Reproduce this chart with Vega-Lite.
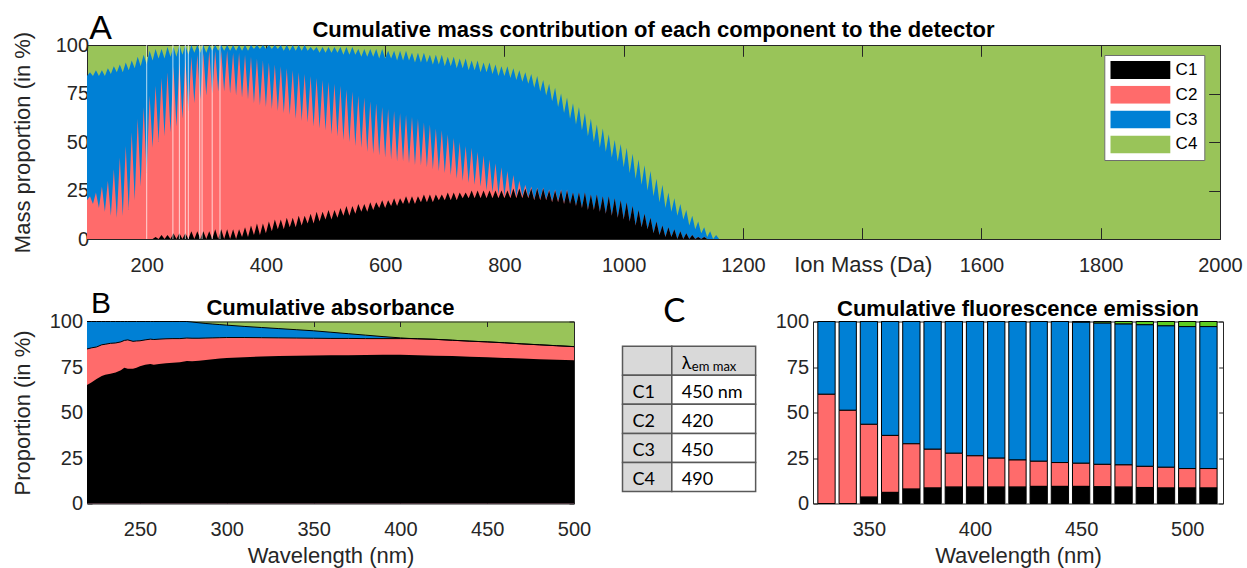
{
"$schema": "https://vega.github.io/schema/vega-lite/v6.json",
"background": "white",
"padding": {"left": 11, "top": 12, "right": 3, "bottom": 1},
"autosize": {"type": "pad"},
"bounds": "flush",
"spacing": 82.5,
"config": {
  "font": "Liberation Sans",
  "view": {"stroke": null},
  "axis": {"zindex": 1, "grid": false, "domainColor": "#262626", "domainWidth": 1, "tickColor": "#262626", "tickWidth": 1, "labelColor": "#262626", "labelFont": "Liberation Sans", "labelFontSize": 20, "titleColor": "#262626", "titleFont": "Liberation Sans", "titleFontSize": 22, "titleFontWeight": "normal", "labelFlush": false, "labelOverlap": false}
},
"datasets": {
  "mass": [
    {"m":100,"c1":0,"c2":20,"c3":84},{"m":105,"c1":0,"c2":22,"c3":86},{"m":110,"c1":0,"c2":18,"c3":84},{"m":115,"c1":0,"c2":24,"c3":87},
    {"m":120,"c1":0,"c2":16,"c3":84},{"m":125,"c1":0,"c2":27,"c3":87},{"m":130,"c1":0,"c2":14,"c3":84},{"m":135,"c1":0,"c2":30,"c3":88},
    {"m":140,"c1":0,"c2":12,"c3":85},{"m":145,"c1":0,"c2":36,"c3":89},{"m":150,"c1":0,"c2":11,"c3":86},{"m":155,"c1":0,"c2":42,"c3":90},
    {"m":160,"c1":0,"c2":12,"c3":86},{"m":165,"c1":0,"c2":48,"c3":91},{"m":170,"c1":0,"c2":15,"c3":87},{"m":175,"c1":0,"c2":55,"c3":92},
    {"m":180,"c1":0,"c2":20,"c3":88},{"m":185,"c1":0,"c2":62,"c3":94},{"m":190,"c1":0,"c2":27,"c3":89},{"m":195,"c1":0,"c2":68,"c3":95},
    {"m":200,"c1":0,"c2":34,"c3":90},{"m":205,"c1":0,"c2":74,"c3":97},{"m":210,"c1":0,"c2":47,"c3":92},{"m":215,"c1":1,"c2":79,"c3":98},
    {"m":220,"c1":0,"c2":50,"c3":93},{"m":225,"c1":2,"c2":83,"c3":98},{"m":230,"c1":0,"c2":53,"c3":93},{"m":235,"c1":2,"c2":86,"c3":99},
    {"m":240,"c1":0,"c2":55,"c3":94},{"m":245,"c1":3,"c2":89,"c3":99},{"m":250,"c1":0,"c2":58,"c3":94},{"m":255,"c1":3,"c2":91,"c3":100},
    {"m":260,"c1":0,"c2":62,"c3":95},{"m":265,"c1":3,"c2":93,"c3":100},{"m":270,"c1":0,"c2":66,"c3":95},{"m":275,"c1":4,"c2":94,"c3":100},
    {"m":280,"c1":0,"c2":70,"c3":96},{"m":285,"c1":4,"c2":95,"c3":100},{"m":290,"c1":0,"c2":72,"c3":96},{"m":295,"c1":4,"c2":96,"c3":100},
    {"m":300,"c1":0,"c2":74,"c3":96},{"m":305,"c1":4,"c2":97,"c3":100},{"m":310,"c1":0,"c2":75,"c3":97},{"m":315,"c1":5,"c2":97,"c3":100},
    {"m":320,"c1":0,"c2":76,"c3":97},{"m":325,"c1":5,"c2":97,"c3":100},{"m":330,"c1":0,"c2":76,"c3":97},{"m":335,"c1":5,"c2":97,"c3":100},
    {"m":340,"c1":0,"c2":75,"c3":97},{"m":345,"c1":5,"c2":96,"c3":100},{"m":350,"c1":0,"c2":74,"c3":97},{"m":355,"c1":5,"c2":96,"c3":100},
    {"m":360,"c1":1,"c2":73,"c3":97},{"m":365,"c1":6,"c2":95,"c3":100},{"m":370,"c1":1,"c2":72,"c3":97},{"m":375,"c1":7,"c2":94,"c3":100},
    {"m":380,"c1":2,"c2":70,"c3":98},{"m":385,"c1":8,"c2":93,"c3":100},{"m":390,"c1":2,"c2":69,"c3":98},{"m":395,"c1":8,"c2":92,"c3":100},
    {"m":400,"c1":3,"c2":68,"c3":98},{"m":405,"c1":9,"c2":91,"c3":100},{"m":410,"c1":4,"c2":67,"c3":98},{"m":415,"c1":10,"c2":90,"c3":100},
    {"m":420,"c1":5,"c2":66,"c3":98},{"m":425,"c1":10,"c2":89,"c3":100},{"m":430,"c1":5,"c2":65,"c3":97},{"m":435,"c1":11,"c2":88,"c3":100},
    {"m":440,"c1":6,"c2":64,"c3":97},{"m":445,"c1":11,"c2":87,"c3":100},{"m":450,"c1":6,"c2":62,"c3":97},{"m":455,"c1":12,"c2":86,"c3":100},
    {"m":460,"c1":7,"c2":61,"c3":97},{"m":465,"c1":12,"c2":85,"c3":100},{"m":470,"c1":8,"c2":60,"c3":97},{"m":475,"c1":13,"c2":84,"c3":99},
    {"m":480,"c1":8,"c2":58,"c3":97},{"m":485,"c1":14,"c2":83,"c3":99},{"m":490,"c1":9,"c2":57,"c3":96},{"m":495,"c1":14,"c2":82,"c3":99},
    {"m":500,"c1":10,"c2":56,"c3":96},{"m":505,"c1":15,"c2":81,"c3":99},{"m":510,"c1":10,"c2":54,"c3":96},{"m":515,"c1":15,"c2":80,"c3":99},
    {"m":520,"c1":11,"c2":53,"c3":96},{"m":525,"c1":16,"c2":79,"c3":99},{"m":530,"c1":12,"c2":51,"c3":95},{"m":535,"c1":17,"c2":77,"c3":99},
    {"m":540,"c1":12,"c2":50,"c3":95},{"m":545,"c1":17,"c2":76,"c3":99},{"m":550,"c1":13,"c2":48,"c3":95},{"m":555,"c1":18,"c2":74,"c3":98},
    {"m":560,"c1":14,"c2":47,"c3":94},{"m":565,"c1":18,"c2":73,"c3":98},{"m":570,"c1":14,"c2":45,"c3":94},{"m":575,"c1":19,"c2":71,"c3":98},
    {"m":580,"c1":15,"c2":44,"c3":94},{"m":585,"c1":19,"c2":70,"c3":98},{"m":590,"c1":16,"c2":43,"c3":93},{"m":595,"c1":20,"c2":68,"c3":98},
    {"m":600,"c1":16,"c2":42,"c3":93},{"m":605,"c1":20,"c2":67,"c3":97},{"m":610,"c1":17,"c2":41,"c3":93},{"m":615,"c1":21,"c2":66,"c3":97},
    {"m":620,"c1":17,"c2":40,"c3":92},{"m":625,"c1":21,"c2":65,"c3":97},{"m":630,"c1":18,"c2":40,"c3":92},{"m":635,"c1":22,"c2":64,"c3":97},
    {"m":640,"c1":18,"c2":39,"c3":92},{"m":645,"c1":22,"c2":63,"c3":96},{"m":650,"c1":18,"c2":38,"c3":91},{"m":655,"c1":22,"c2":62,"c3":96},
    {"m":660,"c1":19,"c2":38,"c3":91},{"m":665,"c1":23,"c2":60,"c3":96},{"m":670,"c1":19,"c2":37,"c3":91},{"m":675,"c1":23,"c2":59,"c3":95},
    {"m":680,"c1":19,"c2":36,"c3":90},{"m":685,"c1":23,"c2":57,"c3":95},{"m":690,"c1":20,"c2":35,"c3":90},{"m":695,"c1":23,"c2":56,"c3":95},
    {"m":700,"c1":20,"c2":34,"c3":89},{"m":705,"c1":24,"c2":54,"c3":94},{"m":710,"c1":20,"c2":33,"c3":89},{"m":715,"c1":24,"c2":52,"c3":94},
    {"m":720,"c1":20,"c2":31,"c3":88},{"m":725,"c1":24,"c2":50,"c3":93},{"m":730,"c1":21,"c2":30,"c3":88},{"m":735,"c1":24,"c2":48,"c3":93},
    {"m":740,"c1":21,"c2":29,"c3":87},{"m":745,"c1":25,"c2":47,"c3":92},{"m":750,"c1":21,"c2":28,"c3":87},{"m":755,"c1":25,"c2":45,"c3":92},
    {"m":760,"c1":21,"c2":27,"c3":86},{"m":765,"c1":25,"c2":43,"c3":91},{"m":770,"c1":21,"c2":25,"c3":86},{"m":775,"c1":25,"c2":41,"c3":91},
    {"m":780,"c1":21,"c2":24,"c3":85},{"m":785,"c1":25,"c2":39,"c3":90},{"m":790,"c1":21,"c2":23,"c3":84},{"m":795,"c1":25,"c2":37,"c3":89},
    {"m":800,"c1":21,"c2":22,"c3":84},{"m":805,"c1":25,"c2":35,"c3":89},{"m":810,"c1":21,"c2":22,"c3":83},{"m":815,"c1":26,"c2":33,"c3":88},
    {"m":820,"c1":21,"c2":22,"c3":82},{"m":825,"c1":26,"c2":30,"c3":87},{"m":830,"c1":21,"c2":22,"c3":81},{"m":835,"c1":26,"c2":28,"c3":86},
    {"m":840,"c1":21,"c2":21.5,"c3":80},{"m":845,"c1":26,"c2":27,"c3":85},{"m":850,"c1":20,"c2":20.5,"c3":78},{"m":855,"c1":26,"c2":26.5,"c3":84},
    {"m":860,"c1":20,"c2":20.5,"c3":76},{"m":865,"c1":26,"c2":26.5,"c3":82},{"m":870,"c1":20,"c2":20.5,"c3":74},{"m":875,"c1":25,"c2":25.5,"c3":80},
    {"m":880,"c1":19,"c2":19.5,"c3":71},{"m":885,"c1":25,"c2":25.5,"c3":78},{"m":890,"c1":19,"c2":19.5,"c3":68},{"m":895,"c1":25,"c2":25.5,"c3":75},
    {"m":900,"c1":18,"c2":18.5,"c3":65},{"m":905,"c1":25,"c2":25.5,"c3":73},{"m":910,"c1":18,"c2":18,"c3":62},{"m":915,"c1":24,"c2":24,"c3":70},
    {"m":920,"c1":17,"c2":17,"c3":59},{"m":925,"c1":24,"c2":24,"c3":68},{"m":930,"c1":16,"c2":16,"c3":56},{"m":935,"c1":24,"c2":24,"c3":65},
    {"m":940,"c1":15,"c2":15,"c3":53},{"m":945,"c1":23,"c2":23,"c3":62},{"m":950,"c1":15,"c2":15,"c3":50},{"m":955,"c1":23,"c2":23,"c3":59},
    {"m":960,"c1":14,"c2":14,"c3":47},{"m":965,"c1":22,"c2":22,"c3":57},{"m":970,"c1":13,"c2":13,"c3":45},{"m":975,"c1":22,"c2":22,"c3":54},
    {"m":980,"c1":12,"c2":12,"c3":42},{"m":985,"c1":21,"c2":21,"c3":51},{"m":990,"c1":11,"c2":11,"c3":40},{"m":995,"c1":20,"c2":20,"c3":49},
    {"m":1000,"c1":10,"c2":10,"c3":37},{"m":1005,"c1":19,"c2":19,"c3":47},{"m":1010,"c1":9,"c2":9,"c3":34},{"m":1015,"c1":17,"c2":17,"c3":44},
    {"m":1020,"c1":7,"c2":7,"c3":31},{"m":1025,"c1":15,"c2":15,"c3":41},{"m":1030,"c1":6,"c2":6,"c3":28},{"m":1035,"c1":13,"c2":13,"c3":38},
    {"m":1040,"c1":5,"c2":5,"c3":25},{"m":1045,"c1":11,"c2":11,"c3":35},{"m":1050,"c1":3,"c2":3,"c3":22},{"m":1055,"c1":9,"c2":9,"c3":31},
    {"m":1060,"c1":2,"c2":2,"c3":19},{"m":1065,"c1":7,"c2":7,"c3":28},{"m":1070,"c1":1,"c2":1,"c3":16},{"m":1075,"c1":6,"c2":6,"c3":24},
    {"m":1080,"c1":1,"c2":1,"c3":14},{"m":1085,"c1":5,"c2":5,"c3":21},{"m":1090,"c1":0,"c2":0,"c3":12},{"m":1095,"c1":4,"c2":4,"c3":18},
    {"m":1100,"c1":0,"c2":0,"c3":10},{"m":1105,"c1":3,"c2":3,"c3":15},{"m":1110,"c1":0,"c2":0,"c3":7},{"m":1115,"c1":2,"c2":2,"c3":12},
    {"m":1120,"c1":0,"c2":0,"c3":5},{"m":1125,"c1":1,"c2":1,"c3":9},{"m":1130,"c1":0,"c2":0,"c3":3},{"m":1135,"c1":1,"c2":1,"c3":6},
    {"m":1140,"c1":0,"c2":0,"c3":1},{"m":1145,"c1":0,"c2":0,"c3":4},{"m":1150,"c1":0,"c2":0,"c3":0},{"m":1155,"c1":0,"c2":0,"c3":2},
    {"m":1160,"c1":0,"c2":0,"c3":0},{"m":2000,"c1":0,"c2":0,"c3":0}
  ],
  "gaps": [{"g":200},{"g":244},{"g":255},{"g":265},{"g":270},{"g":289},{"g":293},{"g":310},{"g":323}],
  "abs": [
    {"w":219.5,"c1":65.1,"c2":84.9,"c3":100},{"w":222,"c1":66.5,"c2":85.5,"c3":100},{"w":225,"c1":68.4,"c2":86.0,"c3":100},
    {"w":228,"c1":70.0,"c2":87.2,"c3":100},{"w":230,"c1":70.8,"c2":87.5,"c3":100},{"w":233,"c1":71.3,"c2":88.0,"c3":100},
    {"w":236,"c1":72.0,"c2":88.2,"c3":100},{"w":239,"c1":73.2,"c2":88.8,"c3":100},{"w":241,"c1":74.6,"c2":89.6,"c3":100},
    {"w":243,"c1":74.0,"c2":89.9,"c3":100},{"w":246,"c1":74.0,"c2":89.1,"c3":100},{"w":248,"c1":74.6,"c2":89.3,"c3":100},
    {"w":250,"c1":75.4,"c2":89.4,"c3":100},{"w":253,"c1":76.3,"c2":89.9,"c3":100},{"w":256,"c1":76.6,"c2":90.3,"c3":100},
    {"w":258,"c1":76.2,"c2":90.1,"c3":100},{"w":261,"c1":76.6,"c2":90.3,"c3":100},{"w":265,"c1":77.0,"c2":90.5,"c3":100},
    {"w":269,"c1":77.3,"c2":90.6,"c3":100},{"w":273,"c1":77.6,"c2":90.6,"c3":100},{"w":277,"c1":78.3,"c2":90.9,"c3":100},
    {"w":280,"c1":78.1,"c2":90.8,"c3":99.7},{"w":284,"c1":78.4,"c2":90.8,"c3":99.3},{"w":288,"c1":78.9,"c2":90.9,"c3":98.9},
    {"w":292,"c1":79.3,"c2":91.0,"c3":98.6},{"w":296,"c1":79.7,"c2":91.1,"c3":98.3},{"w":300,"c1":80.0,"c2":91.2,"c3":98.0},
    {"w":310,"c1":80.4,"c2":91.2,"c3":97.3},{"w":320,"c1":80.8,"c2":91.1,"c3":96.7},{"w":330,"c1":81.0,"c2":91.0,"c3":96.1},
    {"w":340,"c1":81.2,"c2":90.9,"c3":95.5},{"w":350,"c1":81.3,"c2":90.8,"c3":94.9},{"w":360,"c1":81.4,"c2":90.7,"c3":94.1},
    {"w":370,"c1":81.5,"c2":90.7,"c3":93.3},{"w":380,"c1":81.6,"c2":90.6,"c3":92.5},{"w":390,"c1":81.7,"c2":90.6,"c3":91.7},
    {"w":400,"c1":81.7,"c2":90.6,"c3":91.0},{"w":405,"c1":81.6,"c2":90.6,"c3":90.7},{"w":410,"c1":81.5,"c2":90.5,"c3":90.5},
    {"w":420,"c1":81.2,"c2":90.2,"c3":90.2},{"w":430,"c1":81.0,"c2":89.7,"c3":89.7},{"w":440,"c1":80.7,"c2":89.2,"c3":89.2},
    {"w":450,"c1":80.4,"c2":88.8,"c3":88.8},{"w":460,"c1":80.0,"c2":88.3,"c3":88.3},{"w":470,"c1":79.7,"c2":87.7,"c3":87.7},
    {"w":480,"c1":79.3,"c2":87.2,"c3":87.2},{"w":490,"c1":79.0,"c2":86.7,"c3":86.7},{"w":500,"c1":78.7,"c2":86.2,"c3":86.2}
  ],
  "fluo": [
    {"w":330,"c1":0,"c2":60.0,"c3":100},{"w":340,"c1":0,"c2":51.2,"c3":100},{"w":350,"c1":3.5,"c2":43.5,"c3":100},
    {"w":360,"c1":6.1,"c2":37.4,"c3":100},{"w":370,"c1":7.9,"c2":32.8,"c3":100},{"w":380,"c1":8.5,"c2":29.8,"c3":100},
    {"w":390,"c1":9.0,"c2":27.6,"c3":100},{"w":400,"c1":9.0,"c2":26.2,"c3":100},{"w":410,"c1":9.0,"c2":24.9,"c3":100},
    {"w":420,"c1":9.0,"c2":23.9,"c3":100},{"w":430,"c1":9.4,"c2":23.2,"c3":100},{"w":440,"c1":9.4,"c2":22.5,"c3":100},
    {"w":450,"c1":9.4,"c2":22.1,"c3":99.6},{"w":460,"c1":9.2,"c2":21.5,"c3":99.1},{"w":470,"c1":9.0,"c2":21.2,"c3":98.6},
    {"w":480,"c1":8.8,"c2":20.4,"c3":98.2},{"w":490,"c1":8.5,"c2":19.9,"c3":97.6},{"w":500,"c1":8.5,"c2":19.2,"c3":97.2},
    {"w":510,"c1":8.5,"c2":19.2,"c3":97.2}
  ],
  "tbl": [
    {"r0":0,"r1":1,"k0":0,"k1":1,"head":true,"t":""},
    {"r0":0,"r1":1,"k0":1,"k1":2.7,"head":true,"t":"λ","sub":"em max"},
    {"r0":1,"r1":2,"k0":0,"k1":1,"head":true,"t":"C1"},
    {"r0":1,"r1":2,"k0":1,"k1":2.7,"head":false,"t":"450 nm"},
    {"r0":2,"r1":3,"k0":0,"k1":1,"head":true,"t":"C2"},
    {"r0":2,"r1":3,"k0":1,"k1":2.7,"head":false,"t":"420"},
    {"r0":3,"r1":4,"k0":0,"k1":1,"head":true,"t":"C3"},
    {"r0":3,"r1":4,"k0":1,"k1":2.7,"head":false,"t":"450"},
    {"r0":4,"r1":5,"k0":0,"k1":1,"head":true,"t":"C4"},
    {"r0":4,"r1":5,"k0":1,"k1":2.7,"head":false,"t":"490"}
  ]
},
"vconcat": [
  {
    "width": 1133, "height": 194,
    "view": {"fill": "#99C459", "stroke": null},
    "data": {"name": "mass"},
    "layer": [
      {"transform": [{"fold": ["c3"], "as": ["comp", "val"]}],
       "mark": {"type": "area"},
       "encoding": {
         "x": {"field": "m", "type": "quantitative", "scale": {"domain": [100, 2000], "nice": false, "zero": false},
               "axis": {"values": [200,400,600,800,1000,1200,1400,1600,1800,2000], "format": "d", "tickSize": -11.3, "labelBaseline": "alphabetic", "labelPadding": 43.7,
                        "labelExpr": "datum.value == 1400 ? '' : datum.label", "title": "Ion Mass (Da)", "titleX": 775.8, "titleY": 32.4, "titleBaseline": "alphabetic", "titleAlign": "center"}},
         "y": {"field": "val", "type": "quantitative", "stack": null, "scale": {"domain": [0, 100], "nice": false},
               "axis": {"values": [0,25,50,75,100], "tickSize": -11.3, "labelPadding": 9.7, "title": "Mass proportion (in %)", "titleX": -57.2, "titleY": 97, "titleAngle": 270, "titleBaseline": "alphabetic", "titleAlign": "center"}},
         "y2": {"datum": 0},
         "color": {"field": "comp", "type": "nominal",
                   "scale": {"domain": ["c1","c2","c3","c4"], "range": ["#000000","#FF6B6B","#0080D5","#99C459"]},
                   "legend": {"orient": "none", "legendX": 1017.3, "legendY": 10, "title": null, "labelExpr": "upper(datum.label)", "symbolType": "M-1,-0.3H1V0.3H-1Z", "symbolSize": 3600, "clipHeight": 18, "rowPadding": 6.8,
                              "labelFontSize": 17, "labelFont": "Liberation Sans", "labelColor": "#000000", "fillColor": "#FFFFFF", "strokeColor": "#6E6E6E", "padding": 6, "labelOffset": 5.3, "symbolStrokeWidth": 0, "symbolOpacity": 1}}
       }},
      {"transform": [{"fold": ["c2"], "as": ["comp", "val"]}],
       "mark": {"type": "area"},
       "encoding": {"x": {"field": "m", "type": "quantitative", "axis": null}, "y": {"field": "val", "type": "quantitative", "stack": null, "axis": null}, "y2": {"datum": 0}, "color": {"field": "comp", "type": "nominal"}}},
      {"transform": [{"fold": ["c1"], "as": ["comp", "val"]}],
       "mark": {"type": "area"},
       "encoding": {"x": {"field": "m", "type": "quantitative", "axis": null}, "y": {"field": "val", "type": "quantitative", "stack": null, "axis": null}, "y2": {"datum": 0}, "color": {"field": "comp", "type": "nominal"}}},
      {"data": {"name": "gaps"},
       "mark": {"type": "rule", "color": "#FFFFFF", "strokeWidth": 1.2, "opacity": 0.6},
       "encoding": {"x": {"field": "g", "type": "quantitative", "axis": null}}},
      {"data": {"values": [{"t": "A"}]},
       "mark": {"type": "text", "align": "left", "baseline": "alphabetic", "dx": 2.3, "dy": -6, "fontSize": 34, "font": "Liberation Sans", "color": "#000000"},
       "encoding": {"text": {"field": "t", "type": "nominal"}, "x": {"datum": 100, "type": "quantitative", "axis": null}, "y": {"datum": 100, "type": "quantitative", "axis": null}}},
      {"data": {"values": [{"t": "Cumulative mass contribution of each component to the detector"}]},
       "mark": {"type": "text", "align": "center", "baseline": "alphabetic", "dy": -7.7, "fontSize": 22, "fontWeight": "bold", "font": "Liberation Sans", "color": "#000000"},
       "encoding": {"text": {"field": "t", "type": "nominal"}, "x": {"datum": 1050, "type": "quantitative", "axis": null}, "y": {"datum": 100, "type": "quantitative", "axis": null}}},
      {"mark": {"type": "point", "opacity": 0},
       "encoding": {
         "x": {"field": "m", "type": "quantitative", "axis": {"orient": "top", "labels": false, "title": null, "tickSize": -11.3, "values": [200,400,600,800,1000,1200,1400,1600,1800,2000]}},
         "y": {"field": "c1", "type": "quantitative", "axis": {"orient": "right", "labels": false, "title": null, "tickSize": -11.3, "values": [0,25,50,75,100]}}}}
    ],
    "resolve": {"axis": {"x": "independent", "y": "independent"}}
  },
  {
    "hconcat": [
      {
        "width": 487, "height": 182,
        "view": {"fill": "#99C459", "stroke": null},
        "data": {"name": "abs"},
        "layer": [
          {"mark": {"type": "area", "color": "#0080D5"},
           "encoding": {
             "x": {"field": "w", "type": "quantitative", "scale": {"domain": [219.5, 500], "nice": false, "zero": false},
                   "axis": {"values": [250,300,350,400,450,500], "tickSize": -5, "labelBaseline": "alphabetic", "labelPadding": 36.5, "title": "Wavelength (nm)", "titleX": 243.5, "titleY": 59, "titleBaseline": "alphabetic", "titleAlign": "center"}},
             "y": {"field": "c3", "type": "quantitative", "stack": null, "scale": {"domain": [0, 100], "nice": false},
                   "axis": {"values": [0,25,50,75,100], "tickSize": -5, "labelPadding": 9.4, "title": "Proportion (in %)", "titleX": -57.9, "titleY": 91, "titleAngle": 270, "titleBaseline": "alphabetic", "titleAlign": "center"}},
             "y2": {"datum": 0}}},
          {"mark": {"type": "area", "color": "#FF6B6B"},
           "encoding": {"x": {"field": "w", "type": "quantitative", "axis": null}, "y": {"field": "c2", "type": "quantitative", "stack": null, "axis": null}, "y2": {"datum": 0}}},
          {"mark": {"type": "area", "color": "#000000"},
           "encoding": {"x": {"field": "w", "type": "quantitative", "axis": null}, "y": {"field": "c1", "type": "quantitative", "stack": null, "axis": null}, "y2": {"datum": 0}}},
          {"mark": {"type": "line", "color": "#000000", "strokeWidth": 1},
           "encoding": {"x": {"field": "w", "type": "quantitative", "axis": null}, "y": {"field": "c3", "type": "quantitative", "axis": null}}},
          {"mark": {"type": "line", "color": "#000000", "strokeWidth": 1},
           "encoding": {"x": {"field": "w", "type": "quantitative", "axis": null}, "y": {"field": "c2", "type": "quantitative", "axis": null}}},
          {"data": {"values": [{"t": "B"}]},
           "mark": {"type": "text", "align": "left", "baseline": "alphabetic", "dx": 3.9, "dy": -9, "fontSize": 30, "font": "Liberation Sans", "color": "#000000"},
           "encoding": {"text": {"field": "t", "type": "nominal"}, "x": {"datum": 219.5, "type": "quantitative", "axis": null}, "y": {"datum": 100, "type": "quantitative", "axis": null}}},
          {"data": {"values": [{"t": "Cumulative absorbance"}]},
           "mark": {"type": "text", "align": "center", "baseline": "alphabetic", "dy": -6.3, "fontSize": 22, "fontWeight": "bold", "font": "Liberation Sans", "color": "#000000"},
           "encoding": {"text": {"field": "t", "type": "nominal"}, "x": {"datum": 359.75, "type": "quantitative", "axis": null}, "y": {"datum": 100, "type": "quantitative", "axis": null}}},
          {"mark": {"type": "point", "opacity": 0},
           "encoding": {
             "x": {"field": "w", "type": "quantitative", "axis": {"orient": "top", "labels": false, "title": null, "tickSize": -5, "values": [250,300,350,400,450,500]}},
             "y": {"field": "c1", "type": "quantitative", "axis": {"orient": "right", "labels": false, "title": null, "tickSize": -5, "values": [0,25,50,75,100]}}}}
        ],
        "resolve": {"axis": {"x": "independent", "y": "independent"}}
      },
      {
        "width": 142, "height": 182,
        "data": {"name": "tbl"},
        "layer": [
          {"mark": {"type": "rect", "stroke": "#595959", "strokeWidth": 1.5},
           "encoding": {
             "x": {"field": "k0", "type": "quantitative", "scale": {"domain": [0, 2.88], "nice": false, "zero": false}, "axis": null},
             "x2": {"field": "k1"},
             "y": {"field": "r0", "type": "quantitative", "scale": {"domain": [-0.85, 5.41], "nice": false, "zero": false, "reverse": true}, "axis": null},
             "y2": {"field": "r1"},
             "fill": {"condition": {"test": "datum.head", "value": "#D9D9D9"}, "value": "#FFFFFF"}}},
          {"mark": {"type": "text", "align": "left", "baseline": "alphabetic", "dx": 10, "dy": 22.3, "font": "Lato", "fontSize": 18, "color": "#000000"},
           "encoding": {"x": {"field": "k0", "type": "quantitative", "axis": null}, "y": {"field": "r0", "type": "quantitative", "axis": null}, "text": {"field": "t", "type": "nominal"}}},
          {"transform": [{"filter": "datum.sub"}],
           "mark": {"type": "text", "align": "left", "baseline": "alphabetic", "dx": 20, "dy": 24.8, "font": "Lato", "fontSize": 13, "color": "#000000"},
           "encoding": {"x": {"field": "k0", "type": "quantitative", "axis": null}, "y": {"field": "r0", "type": "quantitative", "axis": null}, "text": {"field": "sub", "type": "nominal"}}},
          {"data": {"values": [{"t": "C"}]},
           "mark": {"type": "text", "align": "left", "baseline": "alphabetic", "dx": 40.7, "dy": 0, "font": "Lato", "fontSize": 33, "color": "#000000"},
           "encoding": {"x": {"datum": 0, "type": "quantitative", "axis": null}, "y": {"datum": -0.85, "type": "quantitative", "axis": null}, "text": {"field": "t", "type": "nominal"}}}
        ]
      },
      {
        "width": 410, "height": 182,
        "data": {"name": "fluo"},
        "layer": [
          {"mark": {"type": "bar", "width": 17.3, "color": "#5ECC21", "stroke": "#000000", "strokeWidth": 1},
           "encoding": {
             "x": {"field": "w", "type": "quantitative", "scale": {"domain": [326, 514.5], "nice": false, "zero": false},
                   "axis": {"values": [350,400,450,500], "tickSize": -4.3, "labelBaseline": "alphabetic", "labelPadding": 35.8, "title": "Wavelength (nm)", "titleX": 205, "titleY": 59, "titleBaseline": "alphabetic", "titleAlign": "center"}},
             "y": {"field": "c3", "type": "quantitative", "stack": null, "scale": {"domain": [0, 100], "nice": false},
                   "axis": {"values": [0,25,50,75,100], "tickSize": -4.3, "labelPadding": 8.7, "title": null}},
             "y2": {"datum": 100}}},
          {"mark": {"type": "bar", "width": 17.3, "color": "#0080D5", "stroke": "#000000", "strokeWidth": 1},
           "encoding": {"x": {"field": "w", "type": "quantitative", "axis": null}, "y": {"field": "c3", "type": "quantitative", "stack": null, "axis": null}, "y2": {"field": "c2"}}},
          {"mark": {"type": "bar", "width": 17.3, "color": "#FF6B6B", "stroke": "#000000", "strokeWidth": 1},
           "encoding": {"x": {"field": "w", "type": "quantitative", "axis": null}, "y": {"field": "c2", "type": "quantitative", "stack": null, "axis": null}, "y2": {"field": "c1"}}},
          {"mark": {"type": "bar", "width": 17.3, "color": "#000000", "stroke": "#000000", "strokeWidth": 1},
           "encoding": {"x": {"field": "w", "type": "quantitative", "axis": null}, "y": {"field": "c1", "type": "quantitative", "stack": null, "axis": null}, "y2": {"datum": 0}}},
          {"data": {"values": [{"t": "Cumulative fluorescence emission"}]},
           "mark": {"type": "text", "align": "center", "baseline": "alphabetic", "dy": -6, "fontSize": 22, "fontWeight": "bold", "font": "Liberation Sans", "color": "#000000"},
           "encoding": {"text": {"field": "t", "type": "nominal"}, "x": {"datum": 420.25, "type": "quantitative", "axis": null}, "y": {"datum": 100, "type": "quantitative", "axis": null}}},
          {"mark": {"type": "point", "opacity": 0},
           "encoding": {
             "x": {"field": "w", "type": "quantitative", "axis": {"orient": "top", "labels": false, "title": null, "tickSize": -4.3, "values": [350,400,450,500]}},
             "y": {"field": "c1", "type": "quantitative", "axis": {"orient": "right", "labels": false, "title": null, "tickSize": -4.3, "values": [0,25,50,75,100]}}}}
        ],
        "resolve": {"axis": {"x": "independent", "y": "independent"}}
      }
    ],
    "spacing": 48.5,
    "bounds": "flush"
  }
]
}
